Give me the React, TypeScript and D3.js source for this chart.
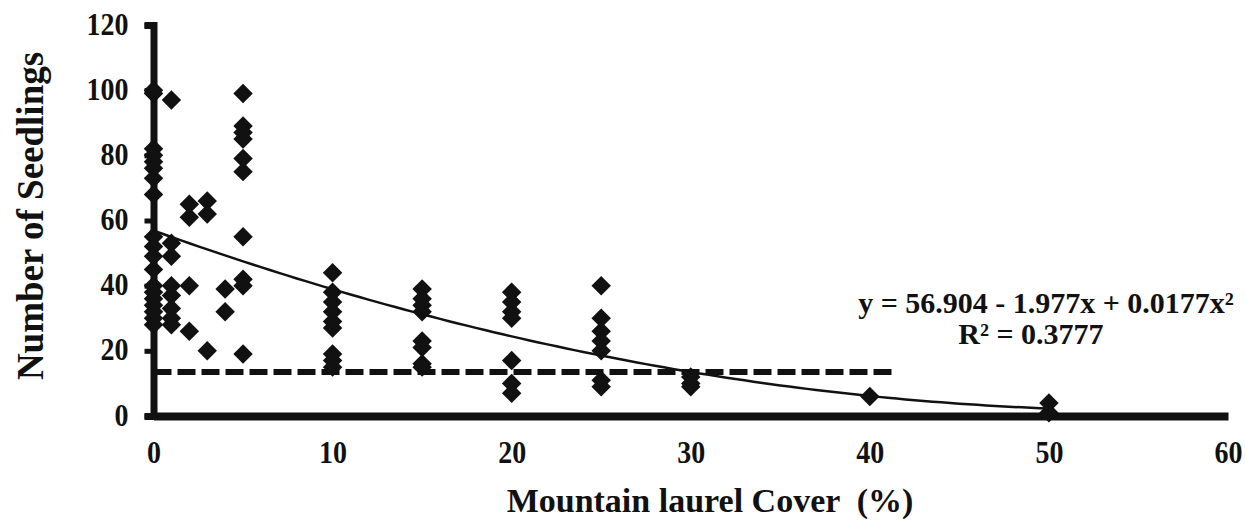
import React, { useEffect, useRef } from "react";
import * as d3 from "d3";

// cover classes (%) and seedling counts
const cover0 = [100, 99, 82, 80, 78, 76, 73, 68, 55, 52, 49, 45, 40, 38, 36, 34, 32, 30, 28];
const cover1 = [97, 53, 49, 40, 37, 33, 30, 28];
const cover2 = [65, 61, 40, 26];
const cover3 = [66, 62, 20];
const cover4 = [39, 32];
const cover5 = [99, 89, 87, 85, 79, 75, 55, 42, 40, 19];
const cover10 = [44, 38, 35, 32, 29, 27, 19, 17, 15];
const cover15 = [39, 36, 34, 32, 23, 21, 16, 15];
const cover20 = [38, 35, 32, 30, 17, 10, 7];
const cover25 = [40, 30, 26, 23, 20, 11, 9];
const cover30 = [12, 10, 9];
const cover40 = [6];
const cover50 = [4, 1];

const groups: [number, number[]][] = [
  [0, cover0], [1, cover1], [2, cover2], [3, cover3], [4, cover4], [5, cover5],
  [10, cover10], [15, cover15], [20, cover20], [25, cover25], [30, cover30],
  [40, cover40], [50, cover50],
];

// polynomial trend: y = a + b x + c x^2
const trendCoef = [56.904, -1.977, 0.0177];
const trendRange = [0, 50];
const thresholdLine = { from: 0, to: 41.5, value: 13.5 };

const xTicks = [0, 10, 20, 30, 40, 50, 60];
const yTicks = [0, 20, 40, 60, 80, 100, 120];
const eqLine1 = "y = 56.904 - 1.977x + 0.0177x²";
const eqLine2 = "R² = 0.3777";

const W = 1245;
const H = 522;
const FONT = "'Liberation Serif', 'Times New Roman', serif";

const App = () => {
  const ref = useRef<SVGSVGElement>(null);

  useEffect(() => {
    const svg = d3.select(ref.current);
    svg.selectAll("*").remove();

    const x = d3.scaleLinear().domain([0, 60]).range([153.5, 1228]);
    const y = d3.scaleLinear().domain([0, 120]).range([416, 25]);

    const points = groups.flatMap(([cx, vals]) => vals.map((v) => ({ cx, v })));

    // axes
    const yAxis = svg
      .append("g")
      .attr("transform", `translate(${x(0)},0)`)
      .call(d3.axisLeft(y).tickValues(yTicks).tickSize(9).tickPadding(16).tickFormat(d3.format("d")));
    yAxis.select(".domain").attr("stroke", "#111").attr("stroke-width", 7);
    yAxis.selectAll(".tick line").attr("stroke", "#111").attr("stroke-width", 5);
    yAxis
      .selectAll(".tick text")
      .attr("font-family", FONT)
      .attr("font-weight", "bold")
      .attr("font-size", 28)
      .attr("transform", "scale(1,1.15)")
      .attr("dy", "0.28em")
      .attr("fill", "#111");

    const xAxis = svg
      .append("g")
      .attr("transform", `translate(0,${y(0)})`)
      .call(d3.axisBottom(x).tickValues(xTicks).tickSize(0).tickPadding(21).tickFormat(d3.format("d")));
    xAxis.select(".domain").attr("stroke", "#111").attr("stroke-width", 8);
    xAxis
      .selectAll(".tick text")
      .attr("font-family", FONT)
      .attr("font-weight", "bold")
      .attr("font-size", 28)
      .attr("transform", "scale(1,1.15)")
      .attr("fill", "#111");

    // dashed reference line
    svg
      .append("line")
      .attr("x1", x(thresholdLine.from))
      .attr("x2", x(thresholdLine.to))
      .attr("y1", y(thresholdLine.value))
      .attr("y2", y(thresholdLine.value))
      .attr("stroke", "#111")
      .attr("stroke-width", 6)
      .attr("stroke-dasharray", "18 6");

    // markers
    const diamond = d3.symbol().type(d3.symbolSquare).size(190);
    svg
      .append("g")
      .selectAll("path")
      .data(points)
      .enter()
      .append("path")
      .attr("d", diamond)
      .attr("transform", (d) => `translate(${x(d.cx)},${y(d.v)}) rotate(45)`)
      .attr("fill", "#111");

    // trend curve
    const trendX = d3.range(trendRange[0], trendRange[1] + 0.5, 0.5);
    const poly = (t: number) => trendCoef[0] + trendCoef[1] * t + trendCoef[2] * t * t;
    svg
      .append("path")
      .datum(trendX)
      .attr("fill", "none")
      .attr("stroke", "#111")
      .attr("stroke-width", 2.5)
      .attr("d", d3.line<number>().x((t) => x(t)).y((t) => y(poly(t))));

    // equation
    const eq = svg
      .append("text")
      .attr("font-family", FONT)
      .attr("font-weight", "bold")
      .attr("font-size", 30)
      .attr("fill", "#111")
      .attr("text-anchor", "middle");
    eq.append("tspan").attr("x", 1046).attr("y", 313).text(eqLine1);
    eq.append("tspan").attr("x", 1031).attr("y", 344).text(eqLine2);

    // axis titles
    svg
      .append("text")
      .attr("transform", `translate(43,216) rotate(-90)`)
      .attr("text-anchor", "middle")
      .attr("font-family", FONT)
      .attr("font-weight", "bold")
      .attr("font-size", 37)
      .attr("fill", "#111")
      .text("Number of Seedlings");

    svg
      .append("text")
      .attr("x", 710)
      .attr("y", 512)
      .attr("text-anchor", "middle")
      .attr("font-family", FONT)
      .attr("font-weight", "bold")
      .attr("font-size", 34)
      .attr("fill", "#111")
      .style("white-space", "pre")
      .text("Mountain laurel Cover  (%)");
  }, []);

  return (
    <svg
      ref={ref}
      width={W}
      height={H}
      style={{ position: "absolute", left: 0, top: 0, background: "#fff" }}
    />
  );
};

export default App;
